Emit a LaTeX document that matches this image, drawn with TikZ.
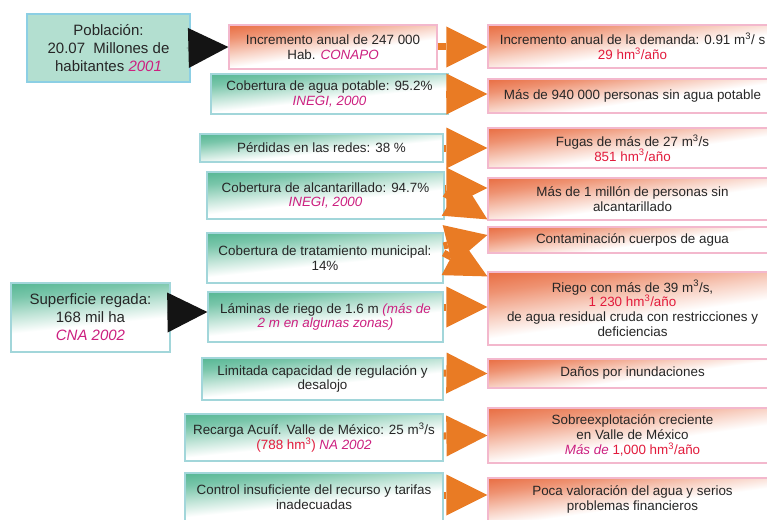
\documentclass[tikz,border=0pt]{standalone}
\usepackage{fontspec}
\setmainfont{Liberation Sans}
\usepackage{xcolor}
\usepackage{tikz}
\usetikzlibrary{arrows.meta}
\definecolor{aguaink}{HTML}{262626}
\definecolor{aguared}{HTML}{E21B3C}
\definecolor{aguamag}{HTML}{CC2080}
\definecolor{aguamint}{HTML}{B3DFD0}
\definecolor{aguablue}{HTML}{8CCFE4}
\definecolor{aguateal}{HTML}{4DB38E}
\definecolor{aguarim}{HTML}{A2D6DA}
\definecolor{aguaorange}{HTML}{E8683B}
\definecolor{aguapink}{HTML}{F3B8CD}
\definecolor{aguaarrow}{HTML}{E97B24}
\definecolor{aguablack}{HTML}{141414}

\pgfdeclareverticalshading{tealfade}{100bp}{color(0bp)=(white); color(45bp)=(white); color(56bp)=(aguateal!35!white); color(68bp)=(aguateal!75!white); color(80bp)=(aguateal); color(100bp)=(aguateal)}
\pgfdeclareverticalshading{orangefade}{100bp}{color(0bp)=(white); color(45bp)=(white); color(55bp)=(aguaorange!30!white); color(68bp)=(aguaorange!72!white); color(80bp)=(aguaorange); color(100bp)=(aguaorange)}

\newcommand{\srcref}[1]{{\itshape\color{aguamag}#1}}
\newcommand{\redval}[1]{{\color{aguared}#1}}
\newcommand{\cub}{\textsuperscript{3}}

\begin{document}
\begin{tikzpicture}[x=1pt, y=-1pt,
    sourcebox/.style={draw=aguablue, line width=1.3pt, fill=aguamint, align=center, inner sep=0pt, text=aguaink, font=\fontsize{15}{18}\selectfont},
    factbox/.style={draw=aguarim, line width=1.2pt, shade, shading=tealfade, shading angle=6, align=center, inner sep=0pt, text=aguaink, font=\fontsize{13.4}{14.8}\selectfont},
    effectbox/.style={draw=aguapink, line width=1.2pt, shade, shading=orangefade, shading angle=8, align=center, inner sep=0pt, text=aguaink, font=\fontsize{13.4}{14.8}\selectfont},
    flowarrow/.style={-{Triangle[length=41pt, width=41pt, line width=0pt]}, line width=7pt, draw=aguaarrow},
    pusharrow/.style={-{Triangle[length=40pt, width=40pt, line width=0pt]}, line width=0.4pt, draw=aguablack}
  ]
    \useasboundingbox (0,0) rectangle (767,519);

    % origins
    \node[sourcebox, minimum width=163pt, minimum height=68pt] (pob) at (108.5,48) {Población:\\20.07\ \ Millones de\\habitantes \srcref{2001}};
    \node[factbox, shading angle=6, font=\fontsize{15}{18}\selectfont, minimum width=159pt, minimum height=69pt] (sup) at (90.5,317.5) {Superficie regada:\\168 mil ha\\\srcref{CNA 2002}};

    % middle column
    \node[effectbox, minimum width=208pt, minimum height=44pt] (inc) at (333,47) {Incremento anual de 247 000\\Hab. \srcref{CONAPO}};
    \node[factbox, minimum width=237pt, minimum height=40pt] (pot) at (329.5,94) {Cobertura de agua potable: 95.2\%\\\srcref{INEGI, 2000}};
    \node[factbox, minimum width=243pt, minimum height=28pt] (per) at (321.5,148) {Pérdidas en las redes: 38 \%};
    \node[factbox, minimum width=237pt, minimum height=47pt] (alc) at (325.5,195.5) {Cobertura de alcantarillado: 94.7\%\\\srcref{INEGI, 2000}};
    \node[factbox, minimum width=236pt, minimum height=50pt] (tra) at (325,258) {Cobertura de tratamiento municipal:\\14\%};
    \node[factbox, minimum width=235pt, minimum height=50pt] (lam) at (325.5,317) {Láminas de riego de 1.6 m \srcref{(más de}\\\srcref{2 m en algunas zonas)}};
    \node[factbox, minimum width=241pt, minimum height=42pt] (lim) at (322.5,379) {Limitada capacidad de regulación y\\desalojo};
    \node[factbox, minimum width=258pt, minimum height=47pt] (rec) at (314,437.5) {Recarga Acuíf. Valle de México: 25 m\cub/s\\\redval{(788 hm\cub)} \srcref{NA 2002}};
    \node[factbox, minimum width=258pt, minimum height=48pt] (con) at (314,497) {Control insuficiente del recurso y tarifas\\inadecuadas};

    % effects
    \node[effectbox, minimum width=289pt, minimum height=43pt] (dem) at (632.5,46.5) {Incremento anual de la demanda: 0.91 m\cub/ s\\\redval{29 hm\cub/año}};
    \node[effectbox, minimum width=289pt, minimum height=34pt] (sin) at (632.5,96) {Más de 940 000 personas sin agua potable};
    \node[effectbox, minimum width=289pt, minimum height=40pt] (fug) at (632.5,148) {Fugas de más de 27 m\cub/s\\\redval{851 hm\cub/año}};
    \node[effectbox, minimum width=289pt, minimum height=42pt] (mil) at (632.5,199) {Más de 1 millón de personas sin\\alcantarillado};
    \node[effectbox, minimum width=289pt, minimum height=26pt] (cnt) at (632.5,240) {Contaminación cuerpos de agua};
    \node[effectbox, minimum width=289pt, minimum height=73pt] (rie) at (632.5,308.5) {Riego con más de 39 m\cub/s,\\\redval{1 230 hm\cub/año}\\de agua residual cruda con restricciones y\\deficiencias};
    \node[effectbox, minimum width=289pt, minimum height=29pt] (dan) at (632.5,373.5) {Daños por inundaciones};
    \node[effectbox, minimum width=289pt, minimum height=55pt] (sob) at (632.5,435.5) {Sobreexplotación creciente\\en Valle de México\\\srcref{Más de} \redval{1,000 hm\cub/año}};
    \node[effectbox, minimum width=289pt, minimum height=43pt] (poc) at (632.5,499.5) {Poca valoración del agua y serios\\problemas financieros};

    % black pushes
    \draw[pusharrow] ([xshift=-4pt]pob.east) -- (inc.west);
    \draw[pusharrow] ([xshift=-3pt,yshift=5pt]sup.east) -- ([yshift=5pt]lam.west);

    % orange flows
    \draw[flowarrow] (inc.east) -- (inc.east -| dem.west);
    \draw[flowarrow] (pot.east) -- (pot.east -| sin.west);
    \draw[flowarrow] (per.east) -- (per.east -| fug.west);
    \draw[flowarrow] ([yshift=2pt]alc.east) -- ([yshift=7pt]cnt.north west);
    \draw[flowarrow] ([yshift=7.5pt]alc.east) -- ([yshift=11pt]mil.west);
    \draw[flowarrow] ([yshift=5pt]tra.east) -- ([yshift=-5pt]rie.north west);
    \draw[flowarrow] ([yshift=12pt]tra.east) -- ([yshift=5pt]cnt.west);
    \draw[flowarrow] ([yshift=10pt]lam.east) -- ([yshift=1.5pt]rie.west);
    \draw[flowarrow] ([yshift=6pt]lim.east) -- (dan.west);
    \draw[flowarrow] ([yshift=1.5pt]rec.east) -- (sob.west);
    \draw[flowarrow] ([yshift=2pt]con.east) -- ([yshift=4.5pt]poc.west);
\end{tikzpicture}
\end{document}
